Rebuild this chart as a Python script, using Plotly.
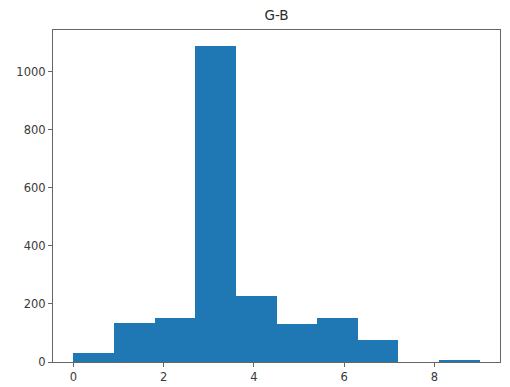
import plotly.graph_objects as go

bin_edges = [0.0, 0.9, 1.8, 2.7, 3.6, 4.5, 5.4, 6.3, 7.2, 8.1, 9.0]
counts = [31, 136, 150, 1090, 226, 132, 150, 77, 0, 6]
title = "G-B"

centers = [(bin_edges[i] + bin_edges[i + 1]) / 2 for i in range(len(counts))]
widths = [bin_edges[i + 1] - bin_edges[i] for i in range(len(counts))]

fig = go.Figure(go.Bar(x=centers, y=counts, width=widths,
                       marker=dict(color="#1f77b4", line=dict(width=0))))

axis_common = dict(showline=True, linecolor="#666666", linewidth=1.2, mirror=True,
                   ticks="outside", ticklen=4, tickcolor="#666666", showgrid=False,
                   zeroline=False, automargin=False,
                   tickfont=dict(family="DejaVu Sans", size=11.5, color="#3a3a3a"))

fig.update_layout(
    width=510, height=387,
    margin=dict(l=53, r=10, t=30, b=25, autoexpand=False),
    plot_bgcolor="white", paper_bgcolor="white",
    title=dict(text=title, x=(53 + 500) / 2 / 510, xanchor="center", y=1 - 15 / 387, yanchor="middle",
               font=dict(family="DejaVu Sans", size=13.5, color="#2a2a2a"), automargin=False),
    xaxis=dict(range=[-0.45, 9.45], tickvals=[0, 2, 4, 6, 8], **axis_common),
    yaxis=dict(range=[0, 1144], tickvals=[0, 200, 400, 600, 800, 1000], **axis_common),
    bargap=0, showlegend=False,
)

fig.write_html("out.html")
